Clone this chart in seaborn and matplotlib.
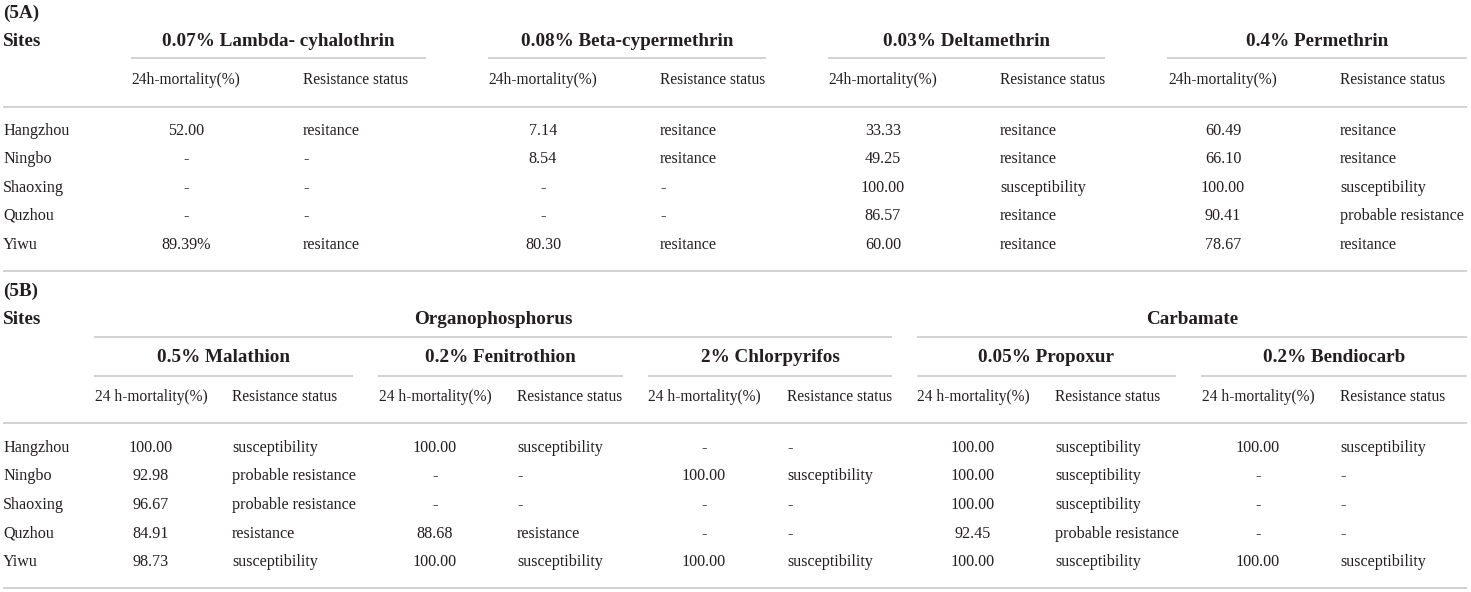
import matplotlib
matplotlib.use("Agg")
import matplotlib.pyplot as plt
import seaborn as sns

sns.set_theme(style="white")
plt.rcParams['font.family'] = ['Liberation Serif', 'DejaVu Serif']

# ---------------- data ----------------
sites = ["Hangzhou", "Ningbo", "Shaoxing", "Quzhou", "Yiwu"]

# Table 5A: pyrethroids
a_insecticides = ["0.07% Lambda- cyhalothrin", "0.08% Beta-cypermethrin",
                  "0.03% Deltamethrin", "0.4% Permethrin"]
a_sub = ["24h-mortality(%)", "Resistance status"]
lambda_mort = ["52.00", "-", "-", "-", "89.39%"]
lambda_stat = ["resitance", "-", "-", "-", "resitance"]
beta_mort = ["7.14", "8.54", "-", "-", "80.30"]
beta_stat = ["resitance", "resitance", "-", "-", "resitance"]
delta_mort = ["33.33", "49.25", "100.00", "86.57", "60.00"]
delta_stat = ["resitance", "resitance", "susceptibility", "resitance", "resitance"]
perm_mort = ["60.49", "66.10", "100.00", "90.41", "78.67"]
perm_stat = ["resitance", "resitance", "susceptibility", "probable resistance", "resitance"]

# Table 5B: organophosphorus and carbamate
b_classes = ["Organophosphorus", "Carbamate"]
b_insecticides = ["0.5% Malathion", "0.2% Fenitrothion", "2% Chlorpyrifos",
                  "0.05% Propoxur", "0.2% Bendiocarb"]
b_sub = ["24 h-mortality(%)", "Resistance status"]
mala_mort = ["100.00", "92.98", "96.67", "84.91", "98.73"]
mala_stat = ["susceptibility", "probable resistance", "probable resistance", "resistance", "susceptibility"]
feni_mort = ["100.00", "-", "-", "88.68", "100.00"]
feni_stat = ["susceptibility", "-", "-", "resistance", "susceptibility"]
chlo_mort = ["-", "100.00", "-", "-", "100.00"]
chlo_stat = ["-", "susceptibility", "-", "-", "susceptibility"]
prop_mort = ["100.00", "100.00", "100.00", "92.45", "100.00"]
prop_stat = ["susceptibility", "susceptibility", "susceptibility", "probable resistance", "susceptibility"]
bend_mort = ["100.00", "-", "-", "-", "100.00"]
bend_stat = ["susceptibility", "-", "-", "-", "susceptibility"]

# ---------------- layout ----------------
W, H = 1471, 592
fig = plt.figure(figsize=(W / 100, H / 100), dpi=100)
ax = fig.add_axes([0, 0, 1, 1])
ax.set_xlim(0, W)
ax.set_ylim(H, 0)
ax.axis("off")

TXT = "#231f20"
LINE = "#cfcfcf"
LW = 1.3
HDR = 13.8
SUB = 11.2
BODY = 11.6

def t(x, y, s, size=BODY, ha="left", bold=False):
    ax.text(x, y, s, fontsize=size, ha=ha, va="center", color=TXT,
            fontweight="bold" if bold else "normal")

def hl(y, x0, x1):
    ax.hlines(y, x0, x1, color=LINE, lw=LW)

# ---- 5A ----
t(3, 13, "(5A)", HDR, bold=True)
t(3, 41, "Sites", HDR, bold=True)
a_spans = [(131, 426), (488, 766), (828, 1105), (1167, 1467)]
a_mort_c = [186, 543, 883, 1223]
a_stat_x = [303, 660, 1000, 1340]
a_mort = [lambda_mort, beta_mort, delta_mort, perm_mort]
a_stat = [lambda_stat, beta_stat, delta_stat, perm_stat]
a_rows_y = [131, 159, 188, 216, 245]
for i, name in enumerate(a_insecticides):
    x0, x1 = a_spans[i]
    t((x0 + x1) / 2, 41, name, HDR, ha="center", bold=True)
    hl(58, x0, x1)
    t(a_mort_c[i], 80, a_sub[0], SUB, ha="center")
    t(a_stat_x[i], 80, a_sub[1], SUB)
    for r, y in enumerate(a_rows_y):
        t(a_mort_c[i], y, a_mort[i][r], BODY, ha="center")
        t(a_stat_x[i], y, a_stat[i][r], BODY)
hl(107, 3, 1467)
for r, y in enumerate(a_rows_y):
    t(3, y, sites[r], BODY)
hl(271, 3, 1467)

# ---- 5B ----
t(3, 291, "(5B)", HDR, bold=True)
t(3, 319, "Sites", HDR, bold=True)
class_spans = [(94, 892), (917, 1467)]
for i, name in enumerate(b_classes):
    x0, x1 = class_spans[i]
    t((x0 + x1) / 2, 319, name, HDR, ha="center", bold=True)
    hl(337, x0, x1)
b_spans = [(94, 353), (378, 623), (648, 892), (917, 1176), (1201, 1467)]
b_mort_c = [151, 435, 704, 973, 1258]
b_stat_x = [232, 517, 787, 1055, 1340]
b_mort = [mala_mort, feni_mort, chlo_mort, prop_mort, bend_mort]
b_stat = [mala_stat, feni_stat, chlo_stat, prop_stat, bend_stat]
b_rows_y = [448, 476, 505, 534, 562]
for i, name in enumerate(b_insecticides):
    x0, x1 = b_spans[i]
    t((x0 + x1) / 2, 357, name, HDR, ha="center", bold=True)
    hl(376, x0, x1)
    t(b_mort_c[i], 397, b_sub[0], SUB, ha="center")
    t(b_stat_x[i], 397, b_sub[1], SUB)
    for r, y in enumerate(b_rows_y):
        t(b_mort_c[i], y, b_mort[i][r], BODY, ha="center")
        t(b_stat_x[i], y, b_stat[i][r], BODY)
hl(423, 3, 1467)
for r, y in enumerate(b_rows_y):
    t(3, y, sites[r], BODY)
hl(588, 3, 1467)

fig.savefig("out.png", dpi=100, facecolor="white")
